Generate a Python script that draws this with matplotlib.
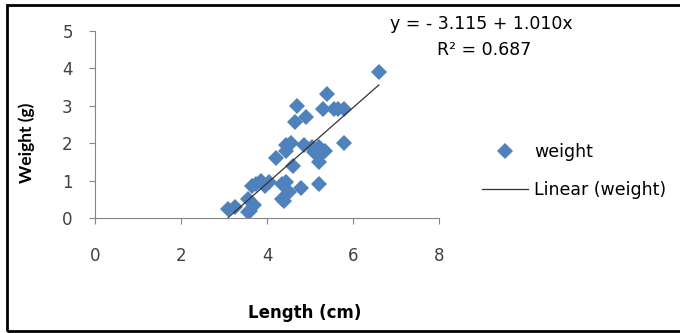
import matplotlib.pyplot as plt
from matplotlib.lines import Line2D
from matplotlib.patches import Rectangle
import numpy as np

# data
length = [6.6, 5.4, 4.7, 4.9, 4.65, 5.3, 5.55, 5.8, 5.65, 5.8,
          4.45, 4.55, 4.85, 5.05, 5.2, 5.35, 5.25, 5.2, 5.1, 4.2,
          4.6, 4.45, 5.2, 4.8, 4.45, 4.35, 4.05, 3.85, 3.75, 3.65,
          4.5, 4.35, 4.4, 3.55, 3.7, 3.6, 3.55, 3.1, 3.25, 3.95]
weight = [3.9, 3.3, 3.0, 2.7, 2.55, 2.9, 2.9, 2.9, 2.9, 2.0,
          1.95, 2.0, 1.95, 1.9, 1.9, 1.8, 1.7, 1.5, 1.75, 1.6,
          1.4, 1.8, 0.9, 0.8, 0.95, 0.9, 0.95, 1.0, 0.9, 0.85,
          0.7, 0.5, 0.45, 0.5, 0.35, 0.2, 0.15, 0.25, 0.3, 0.85]
intercept = -3.115
slope = 1.010
r2 = 0.687

plt.rcParams['font.family'] = ['DejaVu Sans']

fig = plt.figure(figsize=(6.8, 3.33), dpi=100)
ax = fig.add_axes([0.1397, 0.3453, 0.5059, 0.5625])

ax.plot(length, weight, 'D', color='#4F81BD', markersize=7.8, label='weight',
        markeredgewidth=0)
xs = np.array([min(length), max(length)])
ax.plot(xs, intercept + slope * xs, color='#333333', lw=0.9, label='Linear (weight)')

ax.set_xlim(0, 8)
ax.set_ylim(0, 5)
ax.set_xticks([0, 2, 4, 6, 8])
ax.set_yticks([0, 1, 2, 3, 4, 5])
for s in ['top', 'right']:
    ax.spines[s].set_visible(False)
for s in ['left', 'bottom']:
    ax.spines[s].set_color('#868686')
ax.tick_params(axis='y', colors='#868686', labelcolor='#404040', length=4,
               pad=12, labelsize=12)
ax.tick_params(axis='x', colors='#868686', labelcolor='#404040', length=4,
               pad=17, labelsize=12)
ax.patch.set_visible(False)

fig.text(0.04, 0.57, 'Weight (g)', rotation=90, ha='center', va='center',
         fontsize=12.5, fontweight='bold', family='Lato')
fig.text(0.448, 0.06, 'Length (cm)', ha='center', va='center',
         fontsize=12, fontweight='bold')

fig.text(0.5735, 0.928, 'y = - 3.115 + 1.010x', ha='left', va='center', fontsize=12.5)
fig.text(0.643, 0.85, 'R² = %.3f' % r2, ha='left', va='center', fontsize=12.5)

handles = [Line2D([], [], marker='D', color='#4F81BD', ls='none', markersize=7.8,
                  markeredgewidth=0),
           Line2D([], [], color='#333333', lw=0.9)]
fig.legend(handles, ['weight', 'Linear (weight)'], loc='center left',
           bbox_to_anchor=(0.709, 0.4865), frameon=False, fontsize=12.5,
           handlelength=2.65, labelspacing=1.2, handletextpad=0.35,
           borderpad=0, borderaxespad=0)

fig.patches.append(Rectangle((0.01, 0.006), 1.0, 0.978, transform=fig.transFigure,
                             fill=False, edgecolor='black', lw=2))

fig.savefig('out.png', dpi=100)
